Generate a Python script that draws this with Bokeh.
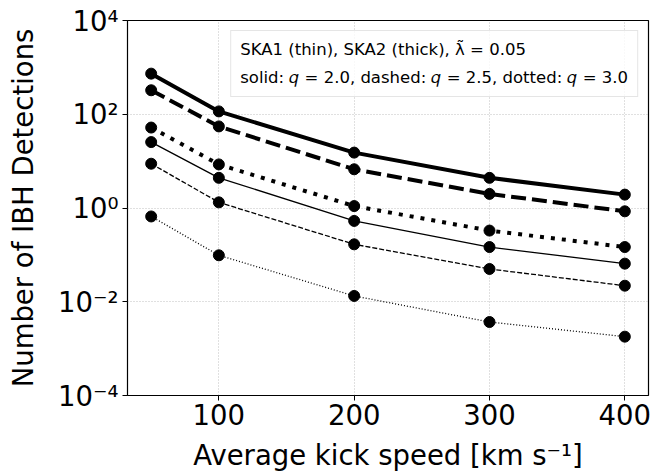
from bokeh.plotting import figure
from bokeh.models import FixedTicker, Legend, LegendItem, Range1d, CustomJSTickFormatter
from bokeh.embed import file_html
from bokeh.resources import INLINE

speeds = [50, 100, 200, 300, 400]
ska2_q20 = [735, 115, 15.2, 4.4, 1.93]
ska2_q25 = [325, 55, 6.7, 2.0, 0.85]
ska2_q30 = [52, 8.5, 1.1, 0.33, 0.147]
ska1_q20 = [25.5, 4.4, 0.53, 0.147, 0.065]
ska1_q25 = [8.8, 1.32, 0.168, 0.05, 0.022]
ska1_q30 = [0.66, 0.098, 0.0133, 0.0037, 0.0018]
y_ticks = [1e-4, 1e-2, 1e0, 1e2, 1e4]
x_ticks = [100, 200, 300, 400]
legend_lines = ["SKA1 (thin), SKA2 (thick), λ̃ = 0.05",
                "solid: 𝑞 = 2.0, dashed: 𝑞 = 2.5, dotted: 𝑞 = 3.0"]

p = figure(width=665, height=474, y_axis_type="log", output_backend="svg",
           toolbar_location=None, x_range=Range1d(32.5, 417.5), y_range=Range1d(1e-4, 1e4),
           min_border_left=127, min_border_right=17, min_border_top=20, min_border_bottom=79)
p.background_fill_color = "white"
p.border_fill_color = "white"
p.outline_line_color = "black"
p.outline_line_width = 1.2

series = [
    (ska2_q20, 4.0, "solid"),
    (ska2_q25, 4.0, "15 6"),
    (ska2_q30, 4.0, "4 7"),
    (ska1_q20, 1.3, "solid"),
    (ska1_q25, 1.3, "5 2"),
    (ska1_q30, 1.3, "1 2"),
]
for ys, lw, dash in series:
    p.line(speeds, ys, line_color="black", line_width=lw, line_dash=dash)
    p.scatter(speeds, ys, size=11, fill_color="black", line_color="black")

p.xaxis.ticker = FixedTicker(ticks=x_ticks, minor_ticks=[])
p.yaxis.ticker = FixedTicker(ticks=y_ticks, minor_ticks=[])
p.yaxis.formatter = CustomJSTickFormatter(code="""
const sup = {'-':'⁻','0':'⁰','1':'¹','2':'²','3':'³','4':'⁴','5':'⁵','6':'⁶','7':'⁷','8':'⁸','9':'⁹'};
const e = Math.round(Math.log10(tick)).toString();
return '10' + e.split('').map(c => sup[c]).join('');
""")
for ax in (p.xaxis[0], p.yaxis[0]):
    ax.axis_line_color = None
    ax.major_tick_line_color = "black"
    ax.major_tick_out = 5
    ax.major_tick_in = 0
    ax.minor_tick_line_color = None
    ax.major_label_text_font = "DejaVu Sans"
    ax.major_label_text_font_size = "27.5px"
    ax.major_label_text_color = "black"
    ax.axis_label_text_font = "DejaVu Sans"
    ax.axis_label_text_font_size = "27.5px"
    ax.axis_label_text_font_style = "normal"
    ax.axis_label_text_color = "black"
p.xaxis.axis_label = "Average kick speed [km s⁻¹]"
p.yaxis.axis_label = "Number of IBH Detections"
p.xaxis.axis_label_standoff = 11
p.yaxis.axis_label_standoff = 16
p.xaxis.major_label_standoff = 3
p.yaxis.major_label_standoff = 4

p.grid.grid_line_color = "#b0b0b0"
p.grid.grid_line_dash = "1 2"
p.grid.grid_line_width = 0.8

items = []
for t in legend_lines:
    r = p.line([], [], line_alpha=0)
    items.append(LegendItem(label=t, renderers=[r]))
leg = Legend(items=items, location="top_right", glyph_width=0, glyph_height=18,
             label_standoff=0, spacing=9, padding=9, margin=10,
             label_text_font="DejaVu Sans", label_text_font_size="16.5px",
             label_text_color="black",
             border_line_color="#cccccc", border_line_width=1,
             background_fill_alpha=0.8)
p.add_layout(leg)

open("out.html", "w").write(file_html(p, INLINE))
